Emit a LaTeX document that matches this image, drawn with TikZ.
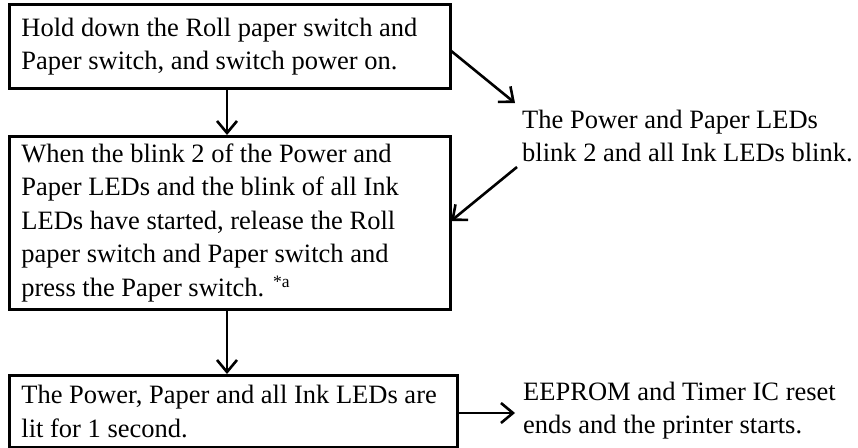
\documentclass[tikz,border=0pt]{standalone}
\usepackage{fontspec}
\setmainfont{Liberation Serif}
\usetikzlibrary{arrows.meta}
\tikzset{
  box/.style={draw, line width=2.8pt, align=flush left, inner xsep=12pt, inner ysep=0pt,
    anchor=north west, font=\fontsize{26.5}{33.5}\selectfont},
  note/.style={align=left, inner sep=0pt, anchor=west, font=\fontsize{26.5}{33}\selectfont},
  arr/.style={line width=2.6pt, -{Straight Barb[length=12pt,width=20pt]}}
}
\begin{document}
\begin{tikzpicture}[x=1pt,y=-1pt]
\useasboundingbox (0,0) rectangle (858,447);
\node[box, text width=417pt, minimum width=441pt, minimum height=84pt] (b1) at (8,3)
  {Hold down the Roll paper switch and\\Paper switch, and switch power on.};
\node[box, text width=417pt, minimum width=441pt, minimum height=173pt] (b2) at (8,135)
  {When the blink 2 of the Power and\\Paper LEDs and the blink of all Ink\\LEDs have started, release the Roll\\paper switch and Paper switch and\\press the Paper switch. \raisebox{0.33em}{\fontsize{17.5}{17.5}\selectfont *a}};
\node[box, text width=424pt, minimum width=448pt, minimum height=72pt] (b3) at (8,374)
  {The Power, Paper and all Ink LEDs are\\lit for 1 second.};
\node[note] (t1) at (522,136) {The Power and Paper LEDs\\blink 2 and all Ink LEDs blink.};
\node[note] (t2) at (523,410.5) {EEPROM and Timer IC reset\\ends and the printer starts.};
\coordinate (ax) at (227,0);
\coordinate (aAs) at (450,50);
\coordinate (aAe) at (515,103);
\coordinate (aBs) at (517,167);
\coordinate (aBe) at (451,221);
\coordinate (aCe) at (515,413);
\draw[arr] (b1.south -| ax) -- (b2.north -| ax);
\draw[arr] (b2.south -| ax) -- (b3.north -| ax);
\draw[arr] (aAs) -- (aAe);
\draw[arr] (aBs) -- (aBe);
\draw[arr] (b3.east |- aCe) -- (aCe);
\end{tikzpicture}
\end{document}
